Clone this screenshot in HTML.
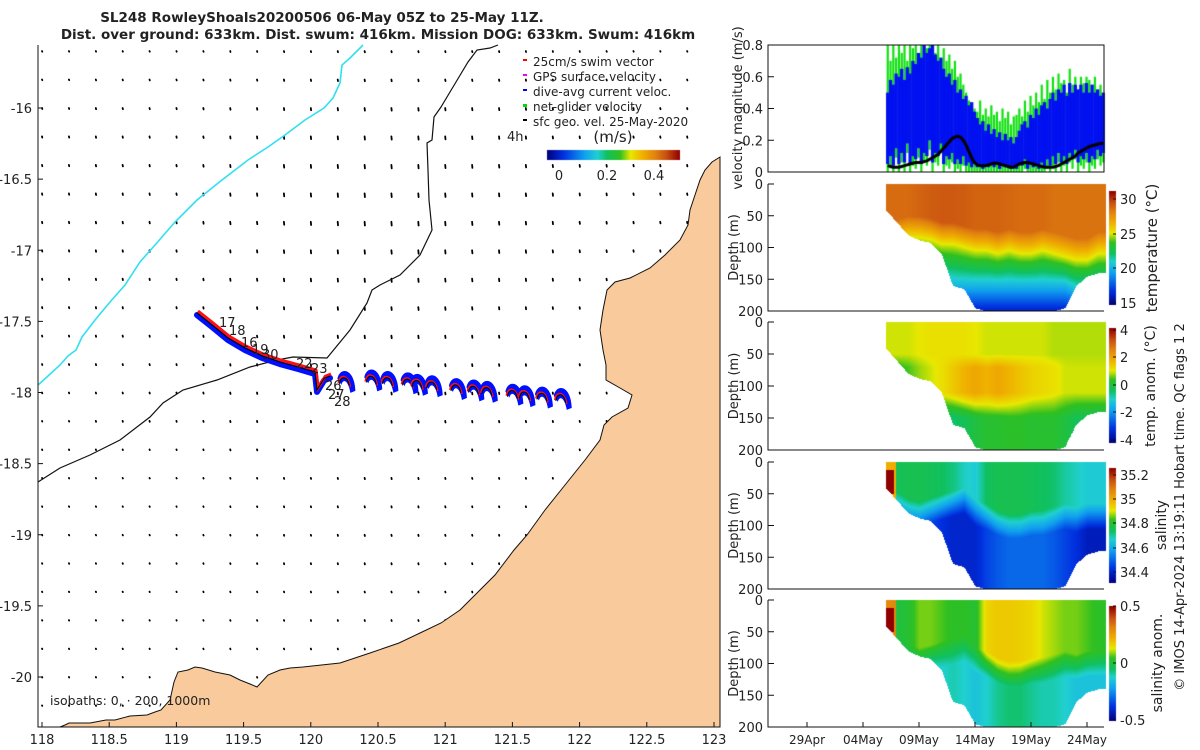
<!DOCTYPE html>
<html><head><meta charset="utf-8"><title>SL248 glider</title>
<style>
body{margin:0;width:1200px;height:750px;overflow:hidden;background:#fff;position:relative;font-family:"DejaVu Sans","Liberation Sans",sans-serif}
#cv,#sv{position:absolute;left:0;top:0}
text{font-family:"DejaVu Sans","Liberation Sans",sans-serif;fill:#222}
</style></head>
<body>
<canvas id="cv" width="1200" height="750"></canvas>
<svg id="sv" width="1200" height="750">
 <text x="322" y="22" text-anchor="middle" font-size="13.5" font-weight="bold">SL248 RowleyShoals20200506 06-May 05Z to 25-May 11Z.</text>
 <text x="378" y="39" text-anchor="middle" font-size="13.5" font-weight="bold">Dist. over ground: 633km. Dist. swum: 416km. Mission DOG: 633km. Swum: 416km</text>
 <g id="quiver"></g>
 <path d="M720,157 L712,162 705,170 700,180 695,195 690,210 688,225 680,240 665,255 650,268 630,278 615,282 607,290 603,310 600,330 603,350 606,365 606,380 620,388 632,395 628,408 612,417 604,425 600,440 585,460 565,485 545,510 527,535 514,550 495,575 477,593 460,610 441,623 420,633 399,643 370,653 340,663 303,667 290,668 280,670 268,675 257,687 250,684 240,680 230,675 215,672 202,668 195,667 188,670 178,672 174,682 170,700 161,710 155,712 147,715 130,716 115,720 106,720 90,723 69,723 65,725 60,727 L720,727 Z" fill="#f9ca9b" stroke="#111" stroke-width="1"/>
 <path d="M363,45 L350,58 342,65 340,83 333,98 324,108 305,120 285,135 268,147 248,160 222,180 197,200 175,222 155,245 140,262 125,285 110,302 95,320 82,337 76,350 68,356 60,365 48,376 38,385" fill="none" stroke="#30e0f0" stroke-width="1.6"/>
 <path d="M498,45 L490,48 477,50 468,62 459,77 450,92 441,107 434,117 432,140 427,143 428,170 429,200 432,230 420,255 400,275 380,285 372,290 367,303 350,330 327,358 293,357 277,360 250,367 217,380 183,390 163,403 150,417 120,440 90,455 60,468 38,482" fill="none" stroke="#111" stroke-width="1.2"/>
 <g id="track"></g>
 <g font-size="13">
  <text x="219" y="327">17</text><text x="229" y="335">18</text><text x="241" y="347">16</text><text x="252" y="354">19</text><text x="262" y="359">30</text><text x="296" y="368">22</text><text x="311" y="373">23</text><text x="325" y="390">26</text><text x="328" y="399">27</text><text x="334" y="406">28</text>
 </g>
 <g font-size="12">
  <rect x="523" y="59" width="4" height="2" fill="#f00"/><text x="533" y="66">25cm/s swim vector</text>
  <rect x="523" y="74" width="4" height="2" fill="#e0f"/><text x="533" y="81">GPS surface velocity</text>
  <rect x="523" y="89" width="4" height="2" fill="#00f"/><text x="533" y="96">dive-avg current veloc.</text>
  <rect x="523" y="104" width="4" height="3" fill="#0d0"/><text x="533" y="111">net-glider velocity</text>
  <rect x="523" y="119" width="4" height="2" fill="#000"/><text x="533" y="126">sfc geo. vel. 25-May-2020</text>
 </g>
 <text x="507" y="141" font-size="13">4h</text>
 <text x="613" y="142" text-anchor="middle" font-size="15">(m/s)</text>
 <g font-size="13"><text x="559" y="180" text-anchor="middle">0</text><text x="607" y="180" text-anchor="middle">0.2</text><text x="654" y="180" text-anchor="middle">0.4</text></g>
 <text x="50" y="705" font-size="12.5">isobaths: 0, · 200, 1000m</text>
 <g id="mapaxes"></g>
 <g id="rightaxes"></g>
 <text transform="translate(742,108) rotate(-90)" text-anchor="middle" font-size="13">velocity magnitude (m/s)</text>
 <text transform="translate(1157,248) rotate(-90)" text-anchor="middle" font-size="15">temperature (°C)</text>
 <text transform="translate(1155,386) rotate(-90)" text-anchor="middle" font-size="14">temp. anom. (°C)</text>
 <text transform="translate(1166,525) rotate(-90)" text-anchor="middle" font-size="14">salinity</text>
 <text transform="translate(1162,663) rotate(-90)" text-anchor="middle" font-size="14">salinity anom.</text>
 <text transform="translate(1184,507) rotate(-90)" text-anchor="middle" font-size="13">© IMOS 14-Apr-2024 13:19:11 Hobart time. QC flags 1  2</text>
</svg>
<script>
// ---------- data ----------
const days = [6,7,8,9,10,11,12,13,14,15,16,17,18,19,20,21,22,23,24,25,26];
const maxDepth = [40,60,80,88,92,110,160,165,195,200,200,200,200,200,200,200,195,160,145,140,140];
const tSurf = [28.8,28.8,28.8,29,29.2,29.3,29.3,29.2,29,29,29,28.9,28.8,28.8,28.8,28.6,28.6,28.6,28.6,28.6,28.6];
const d25 = [90,90,85,85,88,95,95,100,105,105,110,105,110,110,105,110,115,120,120,110,110];
const d20 = [150,150,150,150,150,150,160,160,160,160,160,160,160,160,160,160,160,170,170,170,170];
const anomSurf = [1.0,1.0,1.0,1.1,1.2,1.2,1.2,1.2,1.1,1.0,1.0,1.0,1.0,1.0,1.0,0.9,0.9,0.9,0.9,0.9,0.9];
const anomMid = [0.3,0.3,0.5,0.8,1,1.2,1.5,1.8,2,1.8,2,1.8,1.6,1.4,1.3,1.2,1,1,1,1,1];
const anomDeep = [-0.3,-0.3,-0.3,-0.3,-0.3,-0.5,-0.5,-0.3,0,0.2,0.2,0.3,0.3,0.2,0.2,0.2,0,-0.3,-0.3,-0.3,-0.3];
const halo = [55,60,70,75,70,65,60,55,75,80,90,95,95,90,90,85,80,85,80,80,80];
const salUp = [34.75,34.75,34.76,34.76,34.75,34.74,34.72,34.68,34.66,34.74,34.76,34.76,34.76,34.75,34.74,34.73,34.7,34.68,34.66,34.66,34.66];
const salDeep = [34.5,34.5,34.5,34.48,34.45,34.42,34.4,34.4,34.4,34.45,34.48,34.5,34.5,34.5,34.5,34.48,34.45,34.42,34.38,34.38,34.38];
const saUp = [0,0,0.02,0.08,0.08,0.06,0.04,0.04,0.02,0.16,0.18,0.18,0.17,0.16,0.12,0.1,0.08,0.08,0.06,0.04,0.04];
const saDeep = [-0.15,-0.15,-0.15,-0.15,-0.15,-0.12,-0.1,-0.12,-0.15,-0.12,-0.08,-0.06,-0.06,-0.08,-0.1,-0.1,-0.12,-0.15,-0.15,-0.15,-0.15];
// velocity panel, quarter-day samples from 6.2 May
const velStart = 6.2, velStep = 0.25;
const blueTop = [0.5,0.58,0.55,0.62,0.6,0.65,0.58,0.66,0.62,0.7,0.68,0.75,0.72,0.8,0.75,0.78,0.8,0.74,0.7,0.72,0.65,0.6,0.62,0.55,0.58,0.5,0.52,0.46,0.48,0.42,0.44,0.38,0.34,0.3,0.32,0.26,0.3,0.24,0.27,0.22,0.25,0.2,0.24,0.2,0.22,0.18,0.22,0.26,0.3,0.32,0.28,0.36,0.34,0.4,0.36,0.42,0.44,0.4,0.46,0.5,0.45,0.52,0.5,0.55,0.48,0.56,0.5,0.55,0.52,0.55,0.5,0.56,0.5,0.55,0.5,0.52,0.48,0.5];
const blueBot = [0.05,0.1,0.04,0.15,0.05,0.12,0.06,0.18,0.05,0.1,0.08,0.15,0.05,0.12,0.1,0.2,0.06,0.12,0.1,0.18,0.05,0.1,0.08,0.12,0.05,0.08,0.05,0.1,0.04,0.06,0.03,0.05,0.03,0.04,0.02,0.04,0.03,0.05,0.03,0.06,0.02,0.05,0.03,0.04,0.02,0.03,0.02,0.05,0.04,0.08,0.02,0.06,0.03,0.05,0.02,0.06,0.03,0.08,0.04,0.1,0.05,0.12,0.06,0.1,0.05,0.12,0.08,0.14,0.06,0.1,0.08,0.12,0.06,0.1,0.08,0.14,0.1,0.12];
const greenTop = [0.8,0.7,0.8,0.72,0.8,0.75,0.8,0.7,0.8,0.78,0.8,0.72,0.8,0.8,0.78,0.8,0.8,0.75,0.8,0.72,0.78,0.7,0.74,0.65,0.7,0.6,0.62,0.55,0.5,0.45,0.42,0.4,0.38,0.45,0.36,0.4,0.35,0.42,0.36,0.38,0.32,0.4,0.34,0.38,0.3,0.35,0.36,0.4,0.35,0.45,0.38,0.48,0.42,0.5,0.44,0.55,0.46,0.58,0.5,0.6,0.52,0.62,0.56,0.58,0.5,0.65,0.55,0.6,0.52,0.6,0.56,0.6,0.58,0.55,0.6,0.52,0.55,0.5];
const geoVel = [0.04,0.035,0.03,0.03,0.03,0.035,0.04,0.045,0.05,0.055,0.06,0.06,0.06,0.065,0.07,0.08,0.09,0.1,0.11,0.13,0.15,0.17,0.19,0.21,0.22,0.225,0.22,0.2,0.17,0.13,0.09,0.06,0.045,0.04,0.04,0.04,0.045,0.05,0.055,0.055,0.05,0.045,0.04,0.035,0.03,0.03,0.04,0.05,0.055,0.06,0.06,0.055,0.05,0.045,0.04,0.035,0.03,0.03,0.03,0.03,0.035,0.04,0.05,0.06,0.07,0.08,0.09,0.1,0.12,0.13,0.14,0.15,0.16,0.165,0.17,0.175,0.18,0.18];
// map track
const trackLon = [119.153,119.265,119.384,119.51,119.637,119.771,119.905,120.031,120.046,120.1,120.143];
const trackLat = [-17.441,-17.525,-17.617,-17.687,-17.743,-17.786,-17.821,-17.856,-17.982,-17.9,-17.884];
const hookLon = [120.22,120.42,120.54,120.69,120.76,120.87,121.05,121.18,121.28,121.47,121.56,121.69,121.83];
const hookLat = [-17.89,-17.88,-17.89,-17.9,-17.91,-17.92,-17.94,-17.95,-17.96,-17.98,-17.99,-18.0,-18.01];
const quivLon0 = 118.0, quivLat0 = -15.6;
const quivCol = [0.4,0.4,0.5,0.5,0.5,0.5,0.6,0.8,0.8,1,1.1,1.2,1.3,1.3,1.3,1.2,1.1,1,0.9,0.8,0.7,0.6,0.5,0.5,0.5];
const quivRow = [0.3,0.5,0.8,1,1.1,1.2,1.2,1.1,1,0.9,0.8,0.7,0.6,0.5,0.4,0.3,0.3,0.3,0.3,0.2,0.2,0.2,0.2,0.2];
const mapXTicks = ['118','118.5','119','119.5','120','120.5','121','121.5','122','122.5','123'];
const mapYTicks = ['-16','-16.5','-17','-17.5','-18','-18.5','-19','-19.5','-20'];
const dateTicks = ['29Apr','04May','09May','14May','19May','24May'];
const dateTickDays = [-1,4,9,14,19,24];

// ---------- helpers ----------
const svg = document.getElementById('sv');
const SVGNS = svg.namespaceURI;
function mk(tag, attrs, parent){const e=document.createElementNS(SVGNS,tag);for(const k in attrs)e.setAttribute(k,attrs[k]);parent.appendChild(e);return e;}
const X = lon => 42 + (lon-118)*134.4;
const Y = lat => 108 + (-16-lat)*142.25;
const dayX = d => 919 + (d-9)*11.2;
function interp(arr, d){let i=(d-days[0]);if(i<=0)return arr[0];if(i>=arr.length-1)return arr[arr.length-1];const f=Math.floor(i);const t=i-f;return arr[f]*(1-t)+arr[f+1]*t;}
const stops=[[0,[0,0,128]],[0.12,[0,48,224]],[0.28,[16,160,240]],[0.38,[32,208,208]],[0.45,[16,192,96]],[0.55,[48,192,32]],[0.63,[232,232,0]],[0.72,[240,176,0]],[0.82,[224,128,16]],[0.9,[200,80,16]],[1,[144,0,0]]];
function cmap(t){t=Math.max(0,Math.min(1,t));for(let i=1;i<stops.length;i++){if(t<=stops[i][0]){const a=stops[i-1],b=stops[i];const f=(t-a[0])/(b[0]-a[0]);return [0,1,2].map(k=>Math.round(a[1][k]+(b[1][k]-a[1][k])*f));}}return stops[stops.length-1][1];}

// ---------- map quiver ----------
const qg = document.getElementById('quiver');
for(let r=0;r<quivRow.length;r++){for(let c=0;c<quivCol.length;c++){
  const x=X(quivLon0+c*0.2), y=Y(quivLat0-r*0.2);
  if(x<40||x>718||y>724) continue;
  const L=0.3+quivCol[c]*quivRow[r]*2.2;
  const a=mk('path',{d:`M${x.toFixed(1)},${y.toFixed(1)} l0.3,${L.toFixed(1)}`,stroke:'#000','stroke-width':1.8,'stroke-linecap':'round',fill:'none'},qg);
  
  
}}

// ---------- track ----------
const tg=document.getElementById('track');
let tp=trackLon.map((l,i)=>`${X(l).toFixed(1)},${Y(trackLat[i]).toFixed(1)}`).join(' L');
const tb=mk('path',{d:'M'+tp,stroke:'#0010ff','stroke-width':6,fill:'none','stroke-linejoin':'round','stroke-linecap':'round',transform:'translate(0,2)'},tg);


const tr=mk('path',{d:'M'+tp,stroke:'#ff1010','stroke-width':3,fill:'none',transform:'translate(1,-2)'},tg);


for(let i=0;i<hookLon.length;i++){
  const x=X(hookLon[i]), y=Y(hookLat[i]);
  const h=mk('path',{d:`M${x-3},${y+2} C${x-1},${y-10} ${x+14},${y-10} ${x+15},${y+14} L${x+10},${y+16} C${x+8},${y+4} ${x+3},${y+1} ${x+1},${y+8} Z`,fill:'#0010ff'},tg);
  
  
  const rr=mk('path',{d:`M${x-2},${y+6} C${x-1},${y-3} ${x+8},${y-3} ${x+10},${y+10}`,fill:'none',stroke:'#ff1010','stroke-width':1.6},tg);
  
  
  const bk=mk('path',{d:`M${x-1},${y+7} C${x},${y-1} ${x+7},${y-2} ${x+9},${y+9}`,fill:'none',stroke:'#000','stroke-width':1},tg);
  
  
}
const tl=mk('path',{d:'M'+tp,stroke:'#000','stroke-width':1.1,fill:'none'},tg);



// ---------- map axes ----------
const ma=document.getElementById('mapaxes');
const al=mk('path',{d:'M38,45 L38,727 L720,727',stroke:'#111',fill:'none','stroke-width':1},ma);


mapXTicks.forEach((t,i)=>{const x=X(118+i*0.5);
  const tk=mk('path',{d:`M${x},727 l0,-5`,stroke:'#111'},ma);
  
  
  const tx=mk('text',{x:x,y:744,'text-anchor':'middle','font-size':13},ma);tx.textContent=t;
  
  });
mapYTicks.forEach((t,i)=>{const y=Y(-16-i*0.5);
  const tk=mk('path',{d:`M38,${y} l5,0`,stroke:'#111'},ma);
  
  
  const tx=mk('text',{x:32,y:y+5,'text-anchor':'end','font-size':13},ma);tx.textContent=t;
  
  });

// ---------- right panels ----------
const P=[{t:45,b:172},{t:184,b:311},{t:322,b:450},{t:462,b:589},{t:600,b:727}];
const L0=768,R0=1104;
const cv=document.getElementById('cv'),ctx=cv.getContext('2d');
const img=ctx.createImageData(1200,750);
function field(p,d,z){
  if(p===1){const ts=interp(tSurf,d),a=interp(d25,d),b=interp(d20,d);let T;
    if(z<a-35)T=ts;else if(z<a)T=ts+(25-ts)*(z-(a-35))/35;else if(z<b)T=25-5*(z-a)/(b-a);else T=20-4*(z-b)/(200-b);
    return (T-14.7)/16.5;}
  if(p===2){const s=interp(anomSurf,d),m=interp(anomMid,d),dp=interp(anomDeep,d);let v;
    if(z<50)v=s;else if(z<70)v=s+(m-s)*(z-50)/20;else if(z<110)v=m;else if(z<150)v=m+(dp-m)*(z-110)/40;else v=dp;
    return (v+4.2)/8.4;}
  if(p===3){const h=interp(halo,d),u=interp(salUp,d),dp=interp(salDeep,d);let v;
    if(d<6.7&&z>12&&z<50)v=35.3;else if(d<6.9&&z<60)v=35.0;else if(z<h-15)v=u;else if(z<h+25)v=u+(dp-u)*(z-(h-15))/40;else v=dp;
    return (v-34.31)/0.95;}
  if(p===4){const h=interp(halo,d),u=interp(saUp,d),dp=interp(saDeep,d);let v;
    if(d<6.7&&z>12&&z<50)v=0.55;else if(d<6.9&&z<60)v=0.3;else if(z<h)v=u;else if(z<h+40)v=u+(dp-u)*(z-h)/40;else v=dp;
    return (v+0.5)/1.0;}
}
for(let p=1;p<=4;p++){const pt=P[p].t,pb=P[p].b;
  for(let x=886;x<=1105;x++){const d=9+(x-919)/11.2;const md=interp(maxDepth,d);
    for(let y=pt;y<pb;y++){const z=(y-pt)/(pb-pt)*200;if(z>md)continue;
      const c=cmap(field(p,d,z));const o=(y*1200+x)*4;img.data[o]=c[0];img.data[o+1]=c[1];img.data[o+2]=c[2];img.data[o+3]=255;}}}
ctx.putImageData(img,0,0);
function cbarH(x0,y0,w,h){for(let i=0;i<w;i++){const c=cmap(i/(w-1));ctx.fillStyle=`rgb(${c})`;ctx.fillRect(x0+i,y0,1,h);}}
function cbarV(x0,y0,w,h){for(let i=0;i<h;i++){const c=cmap(1-i/(h-1));ctx.fillStyle=`rgb(${c})`;ctx.fillRect(x0,y0+i,w,1);}}
cbarH(547,150,133,10);
cbarV(1109,191,7,114);cbarV(1109,328,7,115);cbarV(1109,468,7,115);cbarV(1109,606,7,115);
// velocity panel
const vy=v=>172-v/0.8*127;
for(let i=0;i<greenTop.length;i++){const x=dayX(velStart+i*velStep);
  ctx.fillStyle='#10e010';ctx.fillRect(x-1,vy(greenTop[i]),2.2,vy(Math.max(0,blueBot[i]-0.06))-vy(greenTop[i]));}
for(let i=0;i<blueTop.length;i++){const x=dayX(velStart+i*velStep);
  ctx.fillStyle='#0010f0';ctx.fillRect(x-1.6,vy(blueTop[i]),3.3,vy(blueBot[i])-vy(blueTop[i]));}
ctx.strokeStyle='#000';ctx.lineWidth=3;ctx.lineJoin='round';ctx.beginPath();
geoVel.forEach((v,i)=>{const x=dayX(velStart+i*velStep),y=vy(v);i?ctx.lineTo(x,y):ctx.moveTo(x,y);});ctx.stroke();

// right axes
const ra=document.getElementById('rightaxes');
const pnames=['velocity','temperature','temp-anom','salinity','salinity-anom'];
P.forEach((p,k)=>{
  const ln=mk('path',{d:k===0?`M${L0},${p.t} L${L0},${p.b} L${R0},${p.b} L${R0},${p.t} Z`:`M${L0},${p.t} L${L0},${p.b} L${R0},${p.b}`,stroke:'#111',fill:'none'},ra);
  
  
  const labs=k===0?['0','0.2','0.4','0.6','0.8']:['200','150','100','50','0'];
  labs.forEach((t,j)=>{const y=p.b-(p.b-p.t)*j/4;
    const tk=mk('path',{d:`M${L0},${y} l6,0`,stroke:'#111'},ra);
    
    
    const tx=mk('text',{x:L0-5,y:y+5,'text-anchor':'end','font-size':13},ra);tx.textContent=t;
    
    });
  if(k>0){const yt=mk('text',{transform:`translate(738,${(p.t+p.b)/2}) rotate(-90)`,'text-anchor':'middle','font-size':13},ra);yt.textContent='Depth (m)';
    
    }
});
dateTicks.forEach((t,i)=>{const x=dayX(dateTickDays[i]);
  const tk=mk('path',{d:`M${x},727 l0,-5`,stroke:'#111'},ra);
  
  
  const tx=mk('text',{x:x,y:744,'text-anchor':'middle','font-size':12},ra);tx.textContent=t;
  
  });
const cbTicks=[[['30',199],['25',234],['20',268],['15',303]],[['4',330],['2',357],['0',385],['-2',412],['-4',440]],[['35.2',475],['35',499],['34.8',523],['34.6',548],['34.4',572]],[['0.5',606],['0',663],['-0.5',720]]];
cbTicks.forEach(g=>g.forEach(([t,y])=>{
  const tk=mk('path',{d:`M1116,${y} l-3,0`,stroke:'#111'},ra);
  
  
  const tx=mk('text',{x:1120,y:y+5,'font-size':13},ra);tx.textContent=t;
  
  }));
</script>
</body></html>
